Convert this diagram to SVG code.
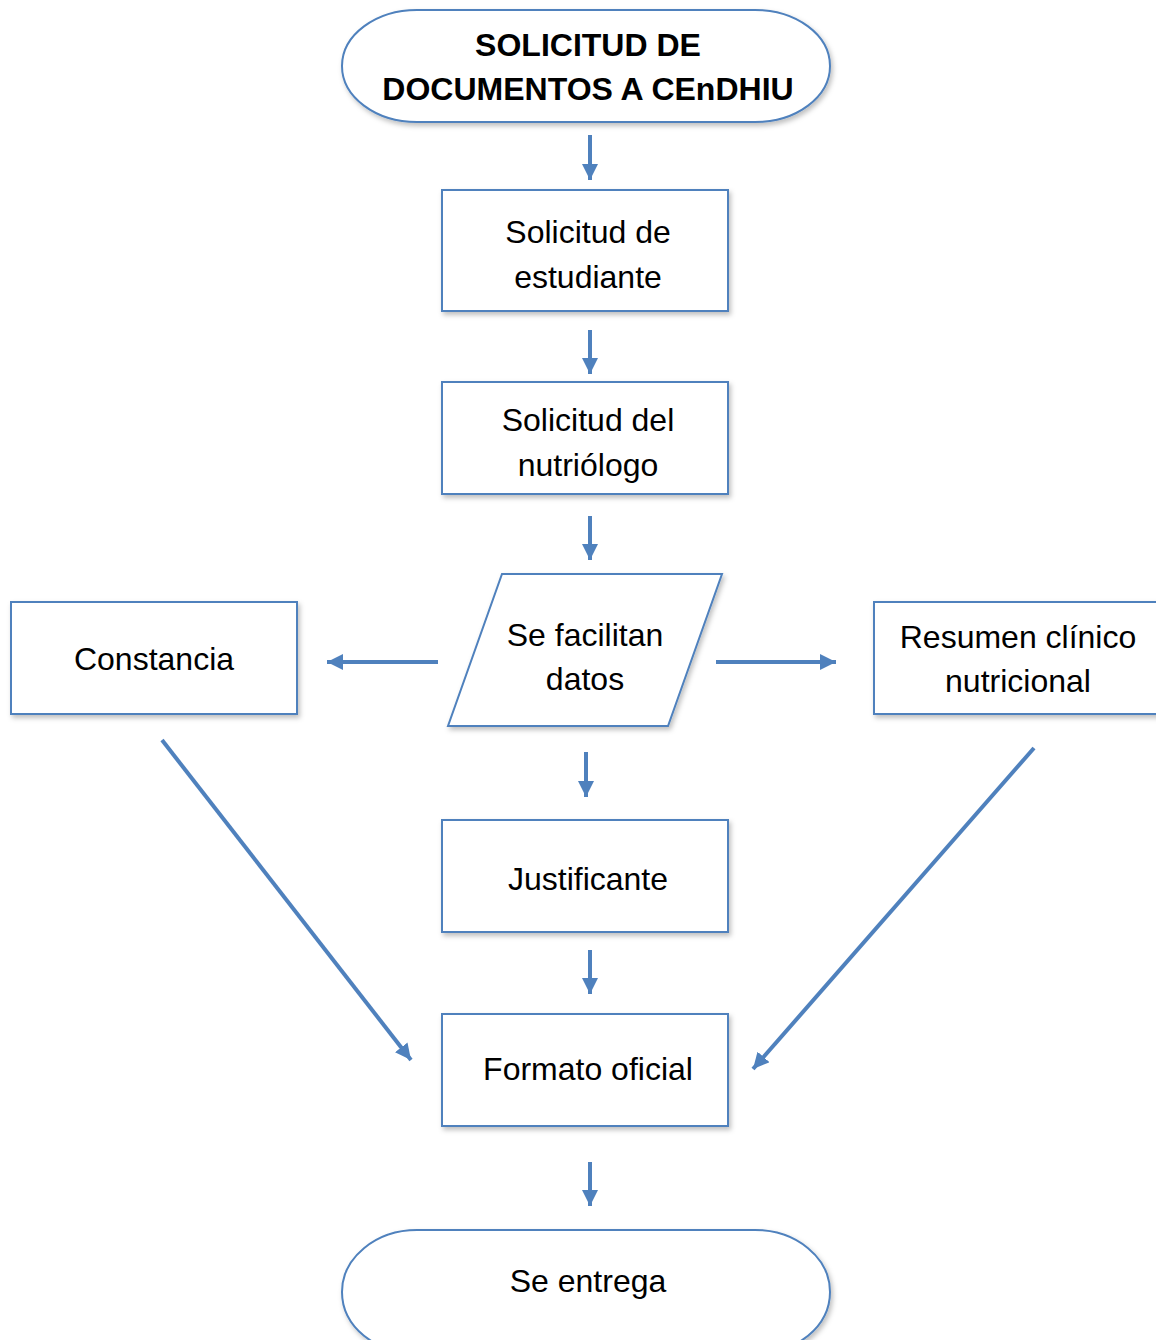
<svg xmlns="http://www.w3.org/2000/svg" width="1156" height="1340" viewBox="0 0 1156 1340">
<defs>
<filter id="sh" x="-10%" y="-10%" width="130%" height="130%">
<feDropShadow dx="2" dy="3" stdDeviation="2.5" flood-color="#000" flood-opacity="0.25"/>
</filter>
<marker id="ah" markerWidth="4" markerHeight="4" refX="4" refY="2" orient="auto" markerUnits="strokeWidth">
<path d="M0,0 L4,2 L0,4 Z" fill="#4f81bd"/>
</marker>
</defs>
<style>
.n{fill:#fff;stroke:#4f81bd;stroke-width:2;filter:url(#sh)}
.t{font-family:"Liberation Sans",Arial,sans-serif;font-size:32px;fill:#000;text-anchor:middle}
.b{font-weight:bold;font-size:32px}
.c{stroke:#4f81bd;stroke-width:4;fill:none;marker-end:url(#ah)}
</style>
<g id="connectors">
<line class="c" x1="590" y1="135" x2="590" y2="180"/>
<line class="c" x1="590" y1="330" x2="590" y2="374"/>
<line class="c" x1="590" y1="516" x2="590" y2="560"/>
<line class="c" x1="438" y1="662" x2="327" y2="662"/>
<line class="c" x1="716" y1="662" x2="836" y2="662"/>
<line class="c" x1="586" y1="752" x2="586" y2="797"/>
<line class="c" x1="590" y1="950" x2="590" y2="994"/>
<line class="c" x1="162" y1="740" x2="411" y2="1060"/>
<line class="c" x1="1034" y1="748" x2="753" y2="1069"/>
<line class="c" x1="590" y1="1162" x2="590" y2="1206"/>
</g>
<g id="start">
<rect class="n" x="342" y="10" width="488" height="112" rx="75" ry="56"/>
<text class="t b" x="588" y="56">SOLICITUD DE</text>
<text class="t b" x="588" y="100">DOCUMENTOS A CEnDHIU</text>
</g>
<g id="solicitud-estudiante">
<rect class="n" x="442" y="190" width="286" height="121"/>
<text class="t" x="588" y="243">Solicitud de</text>
<text class="t" x="588" y="288">estudiante</text>
</g>
<g id="solicitud-nutriologo">
<rect class="n" x="442" y="382" width="286" height="112"/>
<text class="t" x="588" y="431">Solicitud del</text>
<text class="t" x="588" y="476">nutriólogo</text>
</g>
<g id="se-facilitan-datos">
<polygon class="n" points="502,574 722,574 668,726 448,726"/>
<text class="t" x="585" y="646">Se facilitan</text>
<text class="t" x="585" y="690">datos</text>
</g>
<g id="constancia">
<rect class="n" x="11" y="602" width="286" height="112"/>
<text class="t" x="154" y="670">Constancia</text>
</g>
<g id="resumen">
<rect class="n" x="874" y="602" width="290" height="112"/>
<text class="t" x="1018" y="648">Resumen clínico</text>
<text class="t" x="1018" y="692">nutricional</text>
</g>
<g id="justificante">
<rect class="n" x="442" y="820" width="286" height="112"/>
<text class="t" x="588" y="890">Justificante</text>
</g>
<g id="formato-oficial">
<rect class="n" x="442" y="1014" width="286" height="112"/>
<text class="t" x="588" y="1080">Formato oficial</text>
</g>
<g id="se-entrega">
<rect class="n" x="342" y="1230" width="488" height="124" rx="75" ry="62"/>
<text class="t" x="588" y="1292">Se entrega</text>
</g>
</svg>
